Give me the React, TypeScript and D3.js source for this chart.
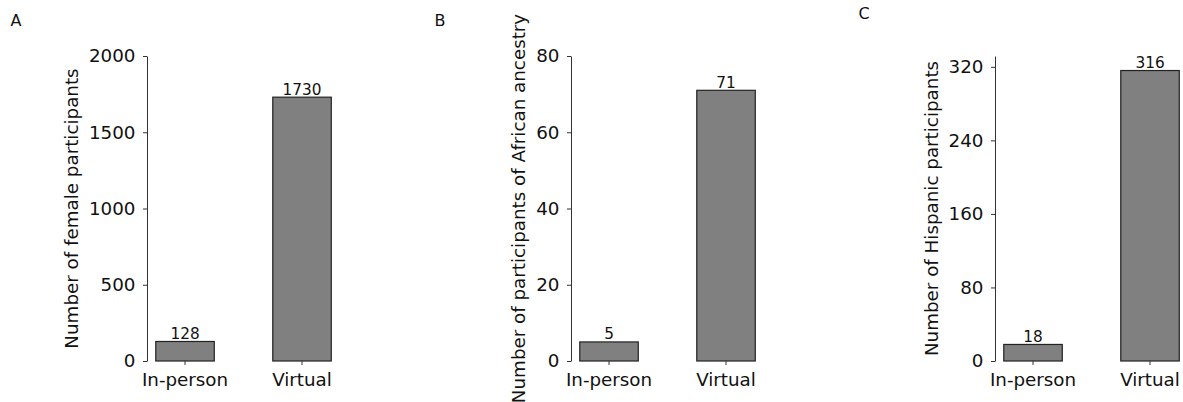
import React, { useEffect, useRef } from "react";
import { select, scaleLinear, scaleBand, axisLeft, axisBottom } from "d3";

const categories = ["In-person", "Virtual"];
const femaleCounts = [128, 1730];
const africanCounts = [5, 71];
const hispanicCounts = [18, 316];

const panelLetters = ["A", "B", "C"];
const yLabels = [
  "Number of female participants",
  "Number of participants of African ancestry",
  "Number of Hispanic participants",
];
const yTicksA = [0, 500, 1000, 1500, 2000];
const yTicksB = [0, 20, 40, 60, 80];
const yTicksC = [0, 80, 160, 240, 320];
const yMaxes = [2000, 80, 316 * 1.05];

const canvasWidth = 1183;
const canvasHeight = 402;
const font = "'DejaVu Sans', sans-serif";

const plotTop = 56;
const plotBottom = 361;
const firstSpineX = 147;
const panelGap = 424;
const step = 117;
const letterY = [25.5, 25.5, 18.5];
const tickFont = 18.3;

const panels = [
  { values: femaleCounts, ticks: yTicksA },
  { values: africanCounts, ticks: yTicksB },
  { values: hispanicCounts, ticks: yTicksC },
];

function App() {
  const svgRef = useRef(null);

  useEffect(() => {
    const svg = select(svgRef.current);
    svg.selectAll("*").remove();

    panels.forEach((p, i) => {
      const left = firstSpineX + i * panelGap;

      const xScale = scaleBand()
        .domain(categories)
        .range([left, left + step * 1.65])
        .paddingInner(0.5)
        .paddingOuter(0.075);

      const yScale = scaleLinear()
        .domain([0, yMaxes[i]])
        .range([plotBottom, plotTop]);

      const g = svg.append("g");

      // panel letter
      g.append("text")
        .attr("x", left - 136.5)
        .attr("y", letterY[i])
        .attr("font-family", font)
        .attr("font-size", 16)
        .attr("fill", "#111")
        .text(panelLetters[i]);

      // bars
      g.selectAll("rect.bar")
        .data(p.values)
        .join("rect")
        .attr("class", "bar")
        .attr("x", (d, j) => xScale(categories[j]))
        .attr("width", xScale.bandwidth())
        .attr("y", (d) => yScale(d))
        .attr("height", (d) => plotBottom - yScale(d))
        .attr("fill", "#808080")
        .attr("stroke", "#222")
        .attr("stroke-width", 1.2);

      // value labels
      g.selectAll("text.val")
        .data(p.values)
        .join("text")
        .attr("class", "val")
        .attr("x", (d, j) => xScale(categories[j]) + xScale.bandwidth() / 2)
        .attr("y", (d) => yScale(d) - 2.5)
        .attr("text-anchor", "middle")
        .attr("font-family", font)
        .attr("font-size", 15.3)
        .attr("fill", "#111")
        .text((d) => d);

      // y axis
      const yAxis = g
        .append("g")
        .attr("transform", `translate(${left}, 0)`)
        .call(
          axisLeft(yScale)
            .tickValues(p.ticks)
            .tickFormat((d) => String(d))
            .tickSize(4)
            .tickSizeOuter(0)
            .tickPadding(7.5)
        );
      yAxis.attr("font-family", font).attr("font-size", tickFont);
      yAxis.selectAll("text").attr("fill", "#111");
      yAxis.selectAll("line").attr("stroke", "#333");
      yAxis.select(".domain").attr("stroke", "#333");

      // x axis (ticks only, no spine)
      const xAxis = g
        .append("g")
        .attr("transform", `translate(0, ${plotBottom})`)
        .call(axisBottom(xScale).tickSize(4).tickSizeOuter(0).tickPadding(8.5));
      xAxis.select(".domain").remove();
      xAxis.attr("font-family", font).attr("font-size", tickFont);
      xAxis.selectAll("text").attr("fill", "#111");
      xAxis.selectAll("line").attr("stroke", "#333");

      // y label, placed outside the widest tick label
      const maxDigits = Math.max(...p.ticks.map((t) => String(t).length));
      const labelX = left - 11.5 - maxDigits * 11.3 - 12;
      g.append("text")
        .attr(
          "transform",
          `translate(${labelX}, ${(plotTop + plotBottom) / 2}) rotate(-90)`
        )
        .attr("text-anchor", "middle")
        .attr("font-family", font)
        .attr("font-size", tickFont)
        .attr("fill", "#111")
        .text(yLabels[i]);
    });
  }, []);

  return (
    <svg
      ref={svgRef}
      width={canvasWidth}
      height={canvasHeight}
      style={{ position: "absolute", left: 0, top: 0, background: "#fff" }}
    />
  );
}

export default App;
